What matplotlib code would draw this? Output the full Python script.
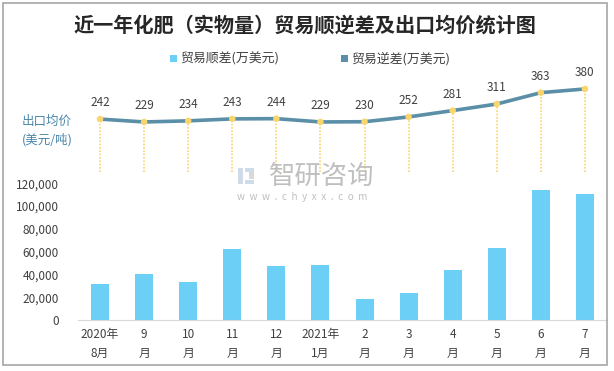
import matplotlib
matplotlib.use('Agg')
import matplotlib.pyplot as plt
from matplotlib.patches import Rectangle

plt.rcParams['font.family'] = ['Noto Sans CJK SC', 'DejaVu Sans']

# Data
months = ['2020年\n8月', '9\n月', '10\n月', '11\n月', '12\n月', '2021年\n1月',
          '2\n月', '3\n月', '4\n月', '5\n月', '6\n月', '7\n月']
surplus = [31600, 40400, 33300, 62300, 47400, 48200,
           18400, 23700, 43900, 63200, 114000, 110500]
export_price = [242, 229, 234, 243, 244, 229, 230, 252, 281, 311, 363, 380]
y_ticks = [0, 20000, 40000, 60000, 80000, 100000, 120000]

BAR_COLOR = '#6CCFF6'
LINE_COLOR = '#5B8FA8'
DOT_COLOR = '#F9D56E'
TEXT_COLOR = '#404040'

W, H = 614, 371
fig = plt.figure(figsize=(W / 100, H / 100), dpi=100)


def px_axes(left, top, right, bottom):
    return fig.add_axes([left / W, 1 - bottom / H, (right - left) / W, (bottom - top) / H])


def px_rect(left, top, w, h, **kw):
    fig.patches.append(Rectangle((left / W, 1 - (top + h) / H), w / W, h / H,
                                 transform=fig.transFigure, **kw))


# outer frame
px_rect(3, 3, 604, 362, fill=False, edgecolor='#A6A6A6', linewidth=1.2)

fig.text(305 / W, 1 - 25 / H, '近一年化肥（实物量）贸易顺逆差及出口均价统计图',
         ha='center', va='center', fontsize=14.5, fontweight='bold', color='#262626')

# legend
px_rect(170, 55, 7, 7, facecolor=BAR_COLOR, edgecolor='none')
fig.text(180 / W, 1 - 58.5 / H, '贸易顺差(万美元)', ha='left', va='center', fontsize=9.3, color=TEXT_COLOR)
px_rect(341, 55, 7, 7, facecolor=LINE_COLOR, edgecolor='none')
fig.text(351 / W, 1 - 58.5 / H, '贸易逆差(万美元)', ha='left', va='center', fontsize=9.3, color=TEXT_COLOR)

x = list(range(len(months)))

# bar axes
ax = px_axes(78, 183.3, 607, 320)
ax.bar(x, surplus, width=0.41, color=BAR_COLOR)
ax.set_xlim(-0.5, len(months) - 0.5)
ax.set_ylim(0, 120000)
ax.set_yticks(y_ticks)
ax.set_yticklabels([f'{v:,}' for v in y_ticks])
ax.set_xticks(x)
ax.set_xticklabels(months, linespacing=1.6)
ax.tick_params(axis='both', length=0, labelsize=8.5, colors=TEXT_COLOR)
ax.tick_params(axis='y', pad=14)
ax.tick_params(axis='x', pad=6)
for s in ['top', 'right', 'left']:
    ax.spines[s].set_visible(False)
ax.spines['bottom'].set_color('#D9D9D9')
ax.set_facecolor('none')

# line axes
ax2 = px_axes(78, 80.2, 607, 172)
ax2.set_xlim(-0.5, len(months) - 0.5)
ax2.set_ylim(0, 420)
ax2.vlines(x, 0, export_price, colors=DOT_COLOR, linestyles=(0, (1, 1)), linewidth=1.2)
ax2.plot(x, export_price, color=LINE_COLOR, linewidth=2.6, zorder=3)
ax2.scatter(x, export_price, s=22, color=DOT_COLOR, zorder=4, edgecolors='none')
for xi, v in zip(x, export_price):
    ax2.annotate(str(v), (xi, v), xytext=(0, 7), textcoords='offset points',
                 ha='center', va='bottom', fontsize=8.5, color=TEXT_COLOR)
ax2.axis('off')

fig.text(47 / W, 1 - 131 / H, '出口均价\n(美元/吨)', ha='center', va='center',
         fontsize=9, color='#4A86A8', linespacing=1.5)

# watermark (logo + site)
px_rect(238, 168, 5, 16, facecolor='#C5D3E3', edgecolor='none', alpha=0.8)
px_rect(245, 168, 9, 4, facecolor='#C5D3E3', edgecolor='none', alpha=0.8)
px_rect(249, 172, 5, 7, facecolor='#D0D0D0', edgecolor='none', alpha=0.8)
px_rect(245, 180, 9, 4, facecolor='#C5D3E3', edgecolor='none', alpha=0.8)
fig.text(269 / W, 1 - 176 / H, '智研咨询', ha='left', va='center', fontsize=19,
         color='#B0B0B0', alpha=0.8)
fig.text(237 / W, 1 - 197 / H, 'w  w  w  .  c  h  y  x  x  .  c  o  m', ha='left', va='center',
         fontsize=7.2, color='#B0B0B0', alpha=0.8)

fig.savefig('out.png', dpi=100)
